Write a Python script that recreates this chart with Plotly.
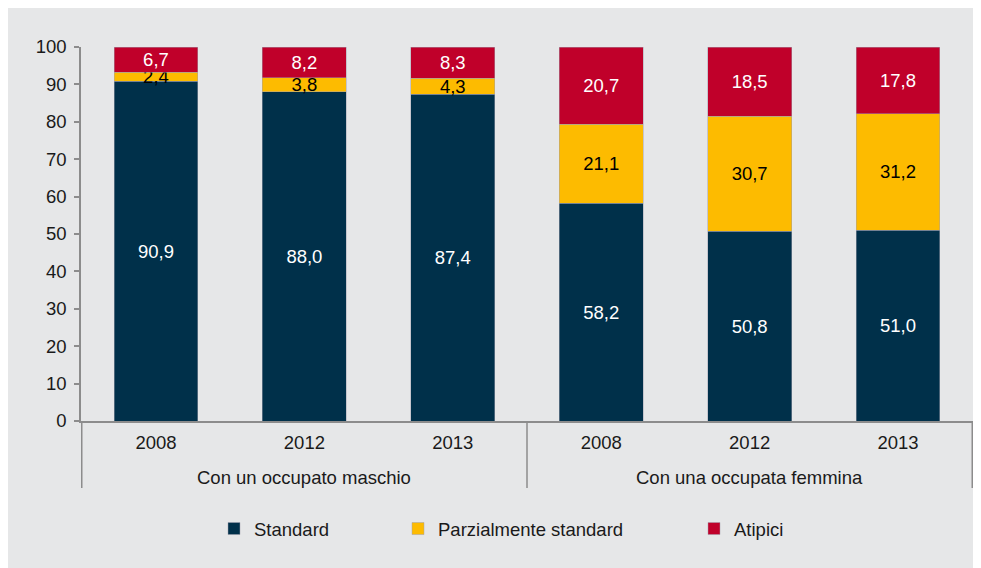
import plotly.graph_objects as go

groups = ["Con un occupato maschio"] * 3 + ["Con una occupata femmina"] * 3
years = ["2008", "2012", "2013", "2008", "2012", "2013"]
standard = [90.9, 88.0, 87.4, 58.2, 50.8, 51.0]
parziale = [2.4, 3.8, 4.3, 21.1, 30.7, 31.2]
atipici = [6.7, 8.2, 8.3, 20.7, 18.5, 17.8]
y_ticks = list(range(0, 101, 10))

C_STD = "#00304A"
C_PAR = "#FDBB00"
C_ATI = "#C0002A"
BG = "#E6E7E8"
AX = "#8C8C8C"
FONT = "Liberation Sans, Arial, sans-serif"
FS = 18.5
TXT = "#1a1a1a"

keys = [g + " " + y for g, y in zip(groups, years)]

fig = go.Figure()
series = [
    ("Standard", standard, C_STD, "white", "legend"),
    ("Parzialmente standard", parziale, C_PAR, "black", "legend2"),
    ("Atipici", atipici, C_ATI, "white", "legend3"),
]
for name, vals, col, tcol, leg in series:
    fig.add_trace(go.Bar(
        x=keys, y=vals, name=name,
        marker=dict(color=col, line=dict(color="rgba(160,160,175,0.8)", width=0.6)),
        texttemplate="%{y:.1f}", textposition="inside", insidetextanchor="middle",
        textangle=0, constraintext="none",
        textfont=dict(color=tcol, size=FS, family=FONT),
        legend=leg,
    ))

# page-pixel helpers (plot area: x 81..973, y 47..421 in page pixels)
def px(xp):
    return (xp - 81) / 892

def py(yp):
    return (421 - yp) / 374

leg_common = dict(orientation="h", yanchor="middle", xanchor="left",
                  bgcolor="rgba(0,0,0,0)", font=dict(size=FS, family=FONT, color=TXT),
                  itemwidth=30)

# group labels and dividers
group_names = []
for g in groups:
    if g not in group_names:
        group_names.append(g)
annotations = []
shapes = []
for gi, g in enumerate(group_names):
    idx = [i for i, gg in enumerate(groups) if gg == g]
    annotations.append(dict(x=(idx[0] + idx[-1]) / 2, xref="x", y=py(477), yref="paper",
                            text=g, showarrow=False, yanchor="middle",
                            font=dict(size=FS, family=FONT, color=TXT)))
    for edge in ([idx[0] - 0.5] if gi == 0 else []) + [idx[-1] + 0.5]:
        shapes.append(dict(type="line", xref="x", yref="paper", x0=edge, x1=edge,
                           y0=0, y1=py(488), line=dict(color=AX, width=1.5)))

fig.update_layout(
    barmode="stack",
    bargap=0.435,
    separators=",.",
    width=981, height=568,
    margin=dict(l=73, r=16, t=39, b=155),
    paper_bgcolor=BG,
    plot_bgcolor=BG,
    font=dict(family=FONT, size=FS, color=TXT),
    uniformtext=dict(minsize=FS, mode="show"),
    showlegend=True,
    legend=dict(x=px(214), y=py(529), **leg_common),
    legend2=dict(x=px(398), y=py(529), **leg_common),
    legend3=dict(x=px(694), y=py(529), **leg_common),
    annotations=annotations,
    shapes=shapes,
    xaxis=dict(
        type="category", showline=True, linecolor=AX, linewidth=1.5,
        showgrid=False, ticks="", tickvals=keys, ticktext=years,
        ticklabelstandoff=4,
        tickfont=dict(size=FS, family=FONT, color=TXT),
    ),
    yaxis=dict(
        range=[0, 100], tickvals=y_ticks, showgrid=False, zeroline=False,
        showline=True, linecolor=AX, linewidth=1.5, ticks="outside", ticklen=5,
        tickcolor=AX, tickwidth=1.5, ticklabelstandoff=4,
        tickfont=dict(size=FS, family=FONT, color=TXT),
    ),
)

fig.write_html("out.html")
